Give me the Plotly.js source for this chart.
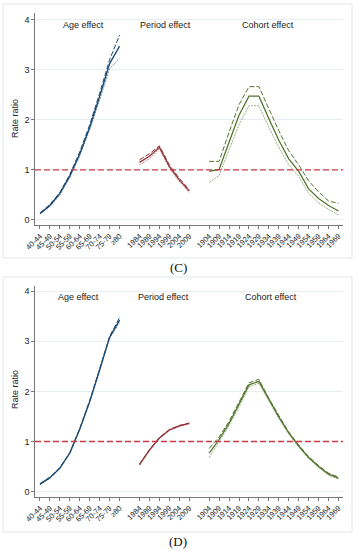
<!DOCTYPE html>
<html>
<head>
<meta charset="utf-8">
<script src="https://cdn.plot.ly/plotly-3.0.1.min.js"></script>
<style>
html,body{margin:0;padding:0;background:#fff;}
#chart{width:359px;height:550px;}
</style>
</head>
<body>
<div id="chart"></div>
<script>
// ---------- categories / tick labels ----------
const ageGroups = ["40-44","45-49","50-54","55-59","60-64","65-69","70-74","75-79","≥80"];
const periods   = ["1984","1989","1994","1999","2004","2009"];
const cohorts   = ["1904","1909","1914","1919","1924","1929","1934","1939","1944","1949","1954","1959","1964","1969"];
const effectTitles = ["Age effect","Period effect","Cohort effect"];
const yTicks = [0,1,2,3,4];

// ---------- panel (C) ----------
const ageEstC = [0.13,0.29,0.53,0.88,1.32,1.85,2.47,3.12,3.47];
const ageUpC  = [0.14,0.31,0.55,0.91,1.36,1.90,2.53,3.20,3.69];
const ageLoC  = [0.12,0.27,0.50,0.85,1.28,1.80,2.40,3.02,3.22];

const perEstC = [1.15,1.27,1.45,1.07,0.80,0.58];
const perUpC  = [1.20,1.32,1.48,1.10,0.83,0.61];
const perLoC  = [1.10,1.22,1.42,1.04,0.77,0.55];

const cohEstC = [0.97,1.01,1.55,2.09,2.47,2.47,2.02,1.59,1.22,0.97,0.62,0.43,0.29,0.18];
const cohUpC  = [1.17,1.17,1.75,2.30,2.66,2.66,2.22,1.78,1.38,1.10,0.78,0.56,0.38,0.33];
const cohLoC  = [0.75,0.89,1.40,1.90,2.28,2.28,1.85,1.45,1.10,0.87,0.53,0.34,0.21,0.10];

// ---------- panel (D) ----------
const ageEstD = [0.15,0.28,0.47,0.77,1.25,1.80,2.43,3.08,3.42];
const ageUpD  = [0.16,0.29,0.48,0.78,1.26,1.82,2.45,3.10,3.47];
const ageLoD  = [0.14,0.27,0.46,0.76,1.24,1.78,2.41,3.06,3.37];

const perEstD = [0.54,0.83,1.07,1.23,1.31,1.36];
const perUpD  = [0.55,0.84,1.08,1.24,1.32,1.37];
const perLoD  = [0.53,0.82,1.06,1.22,1.30,1.35];

const cohEstD = [0.77,1.04,1.36,1.73,2.13,2.20,1.83,1.49,1.17,0.91,0.68,0.50,0.35,0.27];
const cohUpD  = [0.86,1.09,1.40,1.77,2.17,2.24,1.86,1.52,1.19,0.93,0.70,0.52,0.37,0.29];
const cohLoD  = [0.68,0.99,1.32,1.69,2.09,2.16,1.80,1.46,1.15,0.89,0.66,0.48,0.33,0.25];

// ---------- positions along the x axis (groups separated by a gap) ----------
const ageOff = 0, perOff = ageGroups.length + 1, cohOff = perOff + periods.length + 1;
const pos = (n, off) => Array.from({length:n}, (_, i) => off + i);
const ageX = pos(ageGroups.length, ageOff);
const perX = pos(periods.length, perOff);
const cohX = pos(cohorts.length, cohOff);
const tickVals = ageX.concat(perX, cohX);
const tickText = ageGroups.concat(periods, cohorts);

const NAVY = "#1a476f", MAROON = "#90353b", GREEN = "#55752f";

function band(x, est, up, lo, color, xa, ya){
  return [
    {x:x, y:up,  xaxis:xa, yaxis:ya, type:"scatter", mode:"lines", line:{color:color, width:1, dash:"5px,2px"}, hoverinfo:"skip"},
    {x:x, y:lo,  xaxis:xa, yaxis:ya, type:"scatter", mode:"lines", line:{color:color, width:0.8, dash:"2px,1px"}, opacity:0.75, hoverinfo:"skip"},
    {x:x, y:est, xaxis:xa, yaxis:ya, type:"scatter", mode:"lines", line:{color:color, width:1.3}, hoverinfo:"skip"}
  ];
}

const data = [].concat(
  band(ageX, ageEstC, ageUpC, ageLoC, NAVY, "x", "y"),
  band(perX, perEstC, perUpC, perLoC, MAROON, "x", "y"),
  band(cohX, cohEstC, cohUpC, cohLoC, GREEN, "x", "y"),
  band(ageX, ageEstD, ageUpD, ageLoD, NAVY, "x2", "y2"),
  band(perX, perEstD, perUpD, perLoD, MAROON, "x2", "y2"),
  band(cohX, cohEstD, cohUpD, cohLoD, GREEN, "x2", "y2")
);

const W = 359, H = 550;
const px = v => v / W, py = v => 1 - v / H;
const FONT = "Liberation Sans, Arial, sans-serif";

function xAxis(anchor){
  return {
    domain:[px(35), px(343)], anchor:anchor, range:[-0.5, 30.45],
    tickmode:"array", tickvals:tickVals, ticktext:tickText, tickangle:-45,
    ticks:"outside", ticklen:3, tickwidth:0.8, tickcolor:"#555",
    tickfont:{size:7.5, color:"#222", family:FONT},
    showline:true, linecolor:"#555", linewidth:0.8, showgrid:false, zeroline:false, fixedrange:true
  };
}
function yAxis(anchor, dom, rng){
  return {
    domain:dom, anchor:anchor, range:rng,
    tickmode:"array", tickvals:yTicks, ticktext:yTicks.map(String),
    ticks:"outside", ticklen:3, tickwidth:0.8, tickcolor:"#555",
    tickfont:{size:9, color:"#222", family:FONT},
    showline:true, linecolor:"#555", linewidth:0.8,
    showgrid:true, gridcolor:"#e6eef1", gridwidth:1, zeroline:false, fixedrange:true
  };
}

const annotations = [];
function labels(yTop, centers, yTitle, yTitleCenter, panel, panelY){
  effectTitles.forEach((t, i) => annotations.push({
    xref:"paper", yref:"paper", x:px(centers[i]), y:py(yTop), text:t, showarrow:false,
    xanchor:"center", yanchor:"middle", font:{size:9, color:"#222", family:FONT}
  }));
  annotations.push({xref:"paper", yref:"paper", x:px(yTitle), y:py(yTitleCenter), text:"Rate ratio",
    textangle:-90, showarrow:false, xanchor:"center", yanchor:"middle", font:{size:9, color:"#222", family:FONT}});
  annotations.push({xref:"paper", yref:"paper", x:px(178), y:py(panelY), text:panel, showarrow:false,
    xanchor:"center", yanchor:"middle", font:{size:13, color:"#111", family:"Liberation Serif, Times New Roman, serif"}});
}
labels(25, [83,165,268], 15, 119, "(C)", 267);
labels(297, [78,163,271], 15, 390, "(D)", 541);

const shapes = [
  {type:"rect", xref:"paper", yref:"paper", x0:px(3), x1:px(352), y0:py(4), y1:py(258), line:{color:"#e3e8ea", width:1}},
  {type:"rect", xref:"paper", yref:"paper", x0:px(3), x1:px(352), y0:py(277), y1:py(532), line:{color:"#e3e8ea", width:1}},
  {type:"line", xref:"x domain", yref:"y", x0:0, x1:1, y0:1, y1:1, line:{color:"#cc3b45", width:1.3, dash:"6px,3px"}},
  {type:"line", xref:"x2 domain", yref:"y2", x0:0, x1:1, y0:1, y1:1, line:{color:"#cc3b45", width:1.3, dash:"6px,3px"}}
];

const layout = {
  width:W, height:H, margin:{l:0, r:0, t:0, b:0},
  paper_bgcolor:"#ffffff", plot_bgcolor:"#ffffff", showlegend:false,
  font:{family:FONT},
  xaxis: xAxis("y"),
  yaxis: yAxis("x", [py(225), py(13)], [-0.1, 4.13]),
  xaxis2: xAxis("y2"),
  yaxis2: yAxis("x2", [py(497), py(286)], [-0.106, 4.1]),
  annotations:annotations, shapes:shapes
};

Plotly.newPlot("chart", data, layout, {displayModeBar:false, staticPlot:true});
</script>
</body>
</html>
